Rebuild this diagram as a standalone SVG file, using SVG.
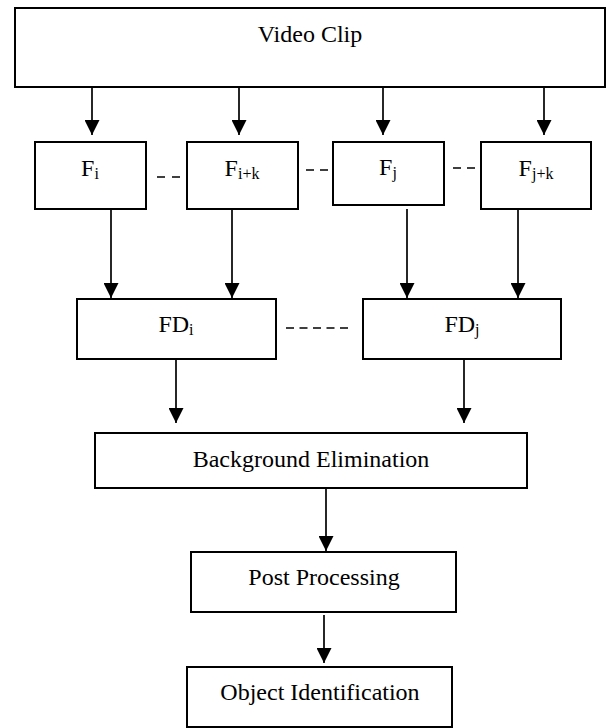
<svg xmlns="http://www.w3.org/2000/svg" width="607" height="728" viewBox="0 0 607 728">
<style>
.box{fill:#fff;stroke:#000;stroke-width:2}
.lbl{font-family:"Liberation Serif","Times New Roman",serif;font-size:24px;fill:#000;text-anchor:middle}
.sub{font-size:16px}
.arr{stroke:#000;stroke-width:1.7;fill:none;marker-end:url(#ah)}
.dash{stroke:#000;stroke-width:1.7;fill:none}
</style>
<defs>
<marker id="ah" markerUnits="userSpaceOnUse" markerWidth="15" markerHeight="15" viewBox="0 0 15 15" refX="15" refY="7.5" orient="auto">
<path d="M0,0 L15,7.5 L0,15 z" fill="#000"/>
</marker>
</defs>
<rect width="607" height="728" fill="#fff"/>
<g id="connectors">
<line class="arr" x1="92" y1="88" x2="92" y2="135"/>
<line class="arr" x1="239" y1="88" x2="239" y2="135"/>
<line class="arr" x1="383" y1="88" x2="383" y2="135"/>
<line class="arr" x1="544" y1="88" x2="544" y2="135"/>
<line class="arr" x1="111" y1="209" x2="111" y2="298"/>
<line class="arr" x1="232" y1="209" x2="232" y2="298"/>
<line class="arr" x1="407" y1="209" x2="407" y2="298"/>
<line class="arr" x1="518" y1="209" x2="518" y2="298"/>
<line class="arr" x1="176" y1="359" x2="176" y2="423"/>
<line class="arr" x1="464" y1="359" x2="464" y2="423"/>
<line class="arr" x1="326" y1="488" x2="326" y2="551"/>
<line class="arr" x1="324" y1="615" x2="324" y2="663"/>
<line class="dash" x1="157" y1="177" x2="180" y2="177" stroke-dasharray="8 7"/>
<line class="dash" x1="306" y1="170" x2="328" y2="170" stroke-dasharray="8 6"/>
<line class="dash" x1="453" y1="168" x2="475" y2="168" stroke-dasharray="8 6"/>
<line class="dash" x1="286" y1="328" x2="348" y2="328" stroke-dasharray="8 5.5"/>
</g>
<g id="video">
<rect class="box" x="15" y="8" width="590" height="79"/>
<text class="lbl" x="310" y="42">Video Clip</text>
</g>
<g id="fi">
<rect class="box" x="35" y="142" width="111" height="67"/>
<text class="lbl" x="90" y="176">F<tspan class="sub" dy="3">i</tspan></text>
</g>
<g id="fik">
<rect class="box" x="187" y="142" width="111" height="67"/>
<text class="lbl" x="242" y="176">F<tspan class="sub" dy="3">i+k</tspan></text>
</g>
<g id="fj">
<rect class="box" x="333" y="142" width="111" height="63"/>
<text class="lbl" x="388" y="175">F<tspan class="sub" dy="3">j</tspan></text>
</g>
<g id="fjk">
<rect class="box" x="481" y="142" width="110" height="67"/>
<text class="lbl" x="536" y="176">F<tspan class="sub" dy="3">j+k</tspan></text>
</g>
<g id="fdi">
<rect class="box" x="77" y="299" width="199" height="60"/>
<text class="lbl" x="176" y="332">FD<tspan class="sub" dy="3">i</tspan></text>
</g>
<g id="fdj">
<rect class="box" x="363" y="299" width="198" height="60"/>
<text class="lbl" x="462" y="332">FD<tspan class="sub" dy="3">j</tspan></text>
</g>
<g id="bg">
<rect class="box" x="95" y="433" width="432" height="55"/>
<text class="lbl" x="311" y="467">Background Elimination</text>
</g>
<g id="post">
<rect class="box" x="191" y="552" width="265" height="60"/>
<text class="lbl" x="324" y="585">Post Processing</text>
</g>
<g id="obj">
<rect class="box" x="187" y="667" width="265" height="60"/>
<text class="lbl" x="320" y="700">Object Identification</text>
</g>
</svg>
